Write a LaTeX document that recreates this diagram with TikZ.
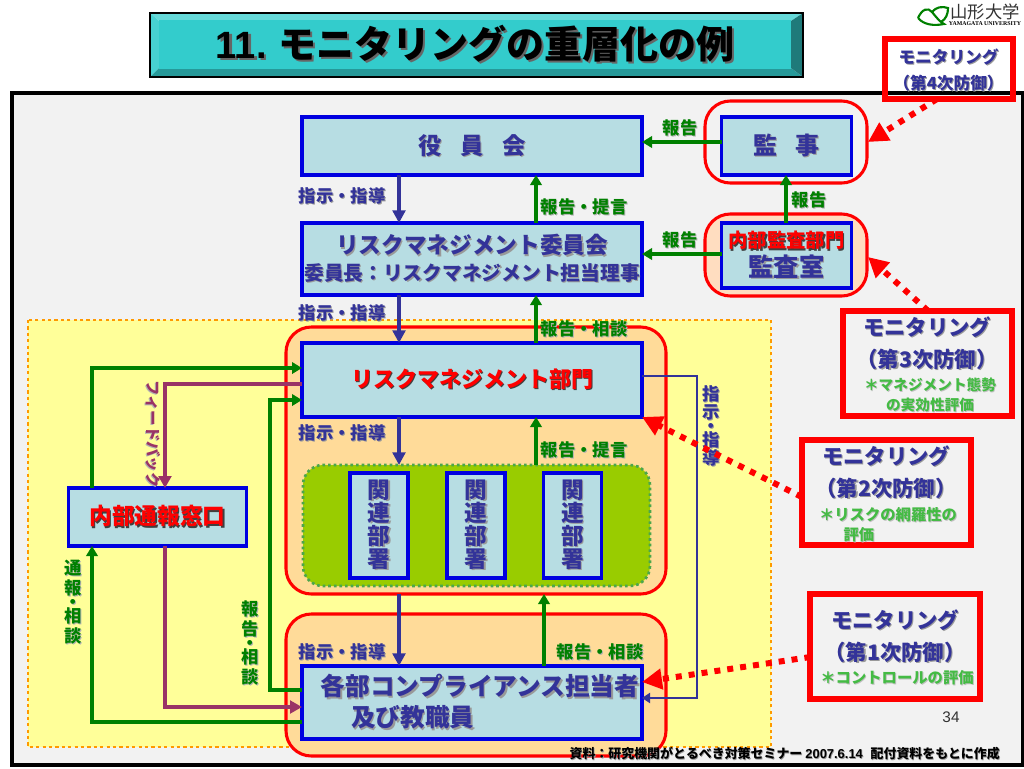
\documentclass[tikz,border=0pt]{standalone}
\usepackage{fontspec}
\setmainfont{Noto Sans CJK JP}
\newfontfamily\latinfont{Liberation Sans}
\newfontfamily\serifont{Liberation Serif}
\usetikzlibrary{arrows.meta,positioning,calc}
\definecolor{framefill}{HTML}{F2F2F2}
\definecolor{yellowfill}{HTML}{FFFF99}
\definecolor{boxfill}{HTML}{B7DDE3}
\definecolor{groupfill}{HTML}{FFDB99}
\definecolor{auditfill}{HTML}{FFDDC0}
\definecolor{leaffill}{HTML}{99CC00}
\definecolor{bluedraw}{HTML}{0000E0}
\definecolor{navy}{HTML}{333399}
\definecolor{okgreen}{HTML}{008000}
\definecolor{plum}{HTML}{993366}
\definecolor{dotorange}{HTML}{FF9900}
\definecolor{monsubgreen}{HTML}{44BB44}
\definecolor{teal}{HTML}{33CCCC}
\newcommand{\shtxt}[3]{\leavevmode\rlap{\hspace{.06em}\raisebox{-.06em}{\textcolor{#2}{#3}}}\textcolor{#1}{#3}}
\newcommand{\navytxt}[1]{\shtxt{navy}{black!40}{#1}}
\newcommand{\greentxt}[1]{\shtxt{okgreen}{black!30}{#1}}
\newcommand{\plumtxt}[1]{\shtxt{plum}{black!30}{#1}}
\newcommand{\redtxt}[1]{\shtxt{red}{black!75}{#1}}
\newcommand{\subtxt}[1]{\shtxt{monsubgreen}{black!25}{#1}}
\tikzset{
  box/.style={draw=bluedraw, fill=boxfill, line width=2.3pt, outer sep=0pt, align=center, inner sep=0pt},
  group/.style={draw=red, line width=2.3pt, rounded corners=19pt},
  monbox/.style={draw=red, line width=4.5pt, outer sep=0pt},
  txt/.style={inner sep=0pt, align=center, font=\bfseries\fontsize{13}{15}\selectfont},
  large/.style={font=\bfseries\fontsize{16.5}{21}\selectfont},
  arrow/.style={draw=navy, line width=3pt, -{Triangle[length=9.5pt,width=9.5pt]}},
  thinarrow/.style={draw=navy, line width=2.2pt, -{Triangle[length=6pt,width=7.5pt]}},
  greenarrow/.style={draw=okgreen, line width=2.6pt, -{Triangle[length=7.5pt,width=8.5pt]}},
  plumarrow/.style={draw=plum, line width=3pt, -{Triangle[length=9pt,width=9.5pt]}},
  redarrow/.style={draw=red, line width=4.5pt, dash pattern=on 4.5pt off 5.25pt, -{Triangle[length=15pt,width=15pt,sep=0pt]}},
}

\begin{document}
\begin{tikzpicture}[x=0.75pt, y=-0.75pt]
  \useasboundingbox (0,0) rectangle (1024,768);
  % Backdrop
  \draw[black, line width=2.3pt, fill=framefill] (12,93) rectangle (1023,765);
  \draw[dotorange, fill=yellowfill, line width=2.2pt, dash pattern=on 2.4pt off 2.4pt] (28,320) rectangle (771,747);

  % Title
  \fill[teal!75!white] (150,13) -- (803,13) -- (791,21) -- (159,21) -- cycle;
  \fill[teal!90!white] (150,13) -- (159,21) -- (159,68) -- (150,77) -- cycle;
  \fill[teal!75!black] (150,77) -- (159,68) -- (791,68) -- (803,77) -- cycle;
  \fill[teal!60!black] (803,13) -- (791,21) -- (791,68) -- (803,77) -- cycle;
  \node[fill=teal, minimum width=474pt, minimum height=35.25pt, outer sep=0pt,
    font=\bfseries\fontsize{28.5}{30}\selectfont] (title) at (475,44.5)
    {\shtxt{black}{black!60}{{\latinfont 11.} モニタリングの重層化の例}};
  \draw[black, line width=.8pt] (150,13) rectangle (803,77);

  % Logo
  \node[inner sep=0pt, font=\fontsize{13}{13}\selectfont] (logotext) at (985,12) {\textcolor{black!80}{山形大学}};
  \node[inner sep=0pt, font=\bfseries\fontsize{4.4}{5}\selectfont] (logosub) at (985,24) {\serifont YAMAGATA UNIVERSITY};
  \draw[okgreen, line width=1.6pt] (918,18) .. controls (922,9) and (928,7) .. (932,12) .. controls (936,17) and (940,22) .. (944,24) .. controls (934,26) and (924,25) .. (918,18);
  \draw[okgreen, line width=1.6pt] (932,12) .. controls (936,7) and (942,6) .. (948,8) .. controls (948,14) and (946,19) .. (941,22);

  % Groups
  \draw[group] (705,101) rectangle (867,183);
  \draw[group, fill=auditfill] (705,214) rectangle (867,296);
  \draw[group, fill=groupfill] (286,327) rectangle (666,594);
  \draw[group, fill=groupfill] (286,614) rectangle (666,756);
  \draw[fill=leaffill, draw=green!50!black!70!white, line width=2pt, dash pattern=on 2pt off 2.2pt, rounded corners=15pt] (303,465) rectangle (650,586);

  % Boxes
  \node[box, minimum width=255pt, minimum height=43.5pt, font=\bfseries\fontsize{17.5}{21}\selectfont] (yakuin) at (472,146)
    {\navytxt{役\hspace{.8em}員\hspace{.8em}会}};
  \node[box, below=36pt of yakuin, minimum width=255pt, minimum height=54pt, font=\bfseries\fontsize{17}{21}\selectfont] (iinkai)
    {\navytxt{リスクマネジメント委員会}\\[-1pt]{\fontsize{14.8}{16}\selectfont\navytxt{委員長：リスクマネジメント担当理事}}};
  \node[box, below=36pt of iinkai, minimum width=255pt, minimum height=55.5pt, large] (bumon)
    {\redtxt{リスクマネジメント部門}};
  \node[box, minimum width=255pt, minimum height=54.75pt, font=\bfseries\fontsize{18.5}{23}\selectfont] (kakubu) at (472,702.5)
    {\hspace*{.65em}\navytxt{各部コンプライアンス担当者}\\\navytxt{及び教職員}\hspace*{4.8em}};
  \node[box, minimum width=97.5pt, minimum height=43.5pt, font=\bfseries\fontsize{18}{21}\selectfont] (kanji) at (786.5,146)
    {\navytxt{監\hspace{.75em}事}};
  \node[box, below=36pt of kanji, minimum width=97.5pt, minimum height=48.75pt] (kansa)
    {{\bfseries\fontsize{14.5}{17}\selectfont\redtxt{内部監査部門}}\\[1.5pt]{\bfseries\fontsize{19}{21}\selectfont\navytxt{監査室}}};
  \node[box, minimum width=133pt, minimum height=43.5pt, font=\bfseries\fontsize{17}{21}\selectfont] (madoguchi) at (157.5,517)
    {\redtxt{内部通報窓口}};
  \foreach \i/\cx in {1/379, 2/476, 3/572.5}
    \node[box, minimum width=43.5pt, minimum height=78.75pt, font=\bfseries\fontsize{17}{17.25}\selectfont] (dept\i) at (\cx,525.5)
      {\navytxt{関}\\\navytxt{連}\\\navytxt{部}\\\navytxt{署}};

  % Helper lines
  \coordinate (navyx) at (399,0);
  \coordinate (greenx) at (536,0);
  \coordinate (greenxb) at (544,0);
  \coordinate (loopx) at (92,0);
  \coordinate (plumx) at (165,0);
  \coordinate (innerx) at (270,0);
  \coordinate (rightx) at (697,0);
  \coordinate (auditx) at (786,0);
  \coordinate (leafgroup) at (472,465);
  \coordinate (deptgroup) at (472,594);

  % Arrows
  \draw[arrow] (yakuin.south -| navyx) -- (iinkai.north -| navyx);
  \draw[arrow] (iinkai.south -| navyx) -- (bumon.north -| navyx);
  \draw[arrow] (bumon.south -| navyx) -- (leafgroup -| navyx);
  \draw[arrow] (deptgroup -| navyx) -- (kakubu.north -| navyx);
  \draw[greenarrow] (iinkai.north -| greenx) -- (yakuin.south -| greenx);
  \draw[greenarrow] (bumon.north -| greenx) -- (iinkai.south -| greenx);
  \draw[greenarrow] (leafgroup -| greenx) -- (bumon.south -| greenx);
  \draw[greenarrow] (kakubu.north -| greenxb) -- (deptgroup -| greenxb);
  \draw[greenarrow] (kanji.west |- 0,142) -- (yakuin.east |- 0,142);
  \draw[greenarrow] (kansa.west |- 0,254) -- (iinkai.east |- 0,254);
  \draw[greenarrow] (kansa.north -| auditx) -- (kanji.south -| auditx);
  \draw[greenarrow] (madoguchi.north -| loopx) |- (bumon.west |- 0,368);
  \draw[greenarrow] (kakubu.west |- 0,722) -| (madoguchi.south -| loopx);
  \draw[greenarrow] (kakubu.west |- 0,690) -| (innerx |- 0,400) -- (bumon.west |- 0,400);
  \draw[plumarrow] (bumon.west |- 0,384) -| (madoguchi.north -| plumx);
  \draw[plumarrow] (madoguchi.south -| plumx) |- (kakubu.west |- 0,707);
  \draw[thinarrow] (bumon.east |- 0,376) -| (rightx |- 0,698) -- (kakubu.east |- 0,698);

  % Labels
  \foreach \name/\lx/\ly in {a/342/196, b/342/313, c/342/433, d/342/652}
    \node[txt] (order\name) at (\lx,\ly) {\navytxt{指示・指導}};
  \node[txt] (reporta) at (584,207) {\greentxt{報告・提言}};
  \node[txt] (reportb) at (584,329) {\greentxt{報告・相談}};
  \node[txt] (reportc) at (584,450) {\greentxt{報告・提言}};
  \node[txt] (reportd) at (600,652) {\greentxt{報告・相談}};
  \node[txt] (reporte) at (680,128) {\greentxt{報告}};
  \node[txt] (reportf) at (680,240) {\greentxt{報告}};
  \node[txt] (reportg) at (809,200) {\greentxt{報告}};
  \node[txt, rotate=-90, font=\bfseries\fontsize{11.5}{13}\selectfont] (feedback) at (153,434) {\plumtxt{フィードバック}};
  \node[txt] (tsuho) at (73,603) {\greentxt{通}\\\greentxt{報}\\[-4.5pt]\greentxt{・}\\[-4.5pt]\greentxt{相}\\\greentxt{談}};
  \node[txt] (hokoku) at (250,643) {\greentxt{報}\\\greentxt{告}\\[-4.5pt]\greentxt{・}\\[-4.5pt]\greentxt{相}\\\greentxt{談}};
  \node[txt] (shiji) at (711,426) {\navytxt{指}\\[-1.5pt]\navytxt{示}\\[-4.5pt]\navytxt{・}\\[-4.5pt]\navytxt{指}\\[-1.5pt]\navytxt{導}};

  % Monitoring boxes
  \node[monbox, minimum width=96pt, minimum height=45pt] (mon4) at (948.5,69) {};
  \node[monbox, minimum width=127pt, minimum height=79pt] (mon3) at (927.5,363.5) {};
  \node[monbox, minimum width=127pt, minimum height=79pt] (mon2) at (886.5,492.5) {};
  \node[monbox, minimum width=127pt, minimum height=79pt] (mon1) at (895,646.5) {};
  \node[txt, font=\bfseries\fontsize{12.5}{19.5}\selectfont] (mon4text) at (948.5,71) {\navytxt{モニタリング}\\\navytxt{（第4次防御）}};
  \node[txt, font=\bfseries\fontsize{16}{24}\selectfont] (mon3text) at (927,344) {\navytxt{モニタリング}\\\navytxt{（第3次防御）}};
  \node[txt, font=\bfseries\fontsize{16}{24}\selectfont] (mon2text) at (886,473) {\navytxt{モニタリング}\\\navytxt{（第2次防御）}};
  \node[txt, font=\bfseries\fontsize{16}{24}\selectfont] (mon1text) at (895,637) {\navytxt{モニタリング}\\\navytxt{（第1次防御）}};
  \node[txt, font=\bfseries\fontsize{11}{15}\selectfont] (mon3sub) at (930,395) {\subtxt{＊マネジメント態勢}\\\subtxt{の実効性評価}};
  \node[txt, font=\bfseries\fontsize{11.5}{15}\selectfont] (mon2sub) at (888,525) {\subtxt{＊リスクの網羅性の}\\\subtxt{評価}\hspace*{3.8em}};
  \node[txt, font=\bfseries\fontsize{11.5}{15}\selectfont] (mon1sub) at (897,678) {\subtxt{＊コントロールの評価}};

  % Red dotted arrows
  \draw[redarrow] (mon4.south -| 937,0) -- (868,142);
  \draw[redarrow] (mon3.north -| 928,0) -- (868,257);
  \draw[redarrow] (mon2.west |- 0,497) -- (bumon.south east);
  \draw[redarrow] (mon1.west |- 0,657) -- (kakubu.east |- 0,682);

  % Footer
  \node[inner sep=0pt, font=\fontsize{11.5}{13}\selectfont\latinfont] (pageno) at (951,717) {\textcolor{black!80}{34}};
  \node[inner sep=0pt, anchor=east, font=\bfseries\fontsize{9.7}{11}\selectfont] (source) at (1000,754)
    {\shtxt{black}{black!40}{資料：研究機関がとるべき対策セミナー {\latinfont 2007.6.14}\hspace{.6em}配付資料をもとに作成}};
\end{tikzpicture}
\end{document}
